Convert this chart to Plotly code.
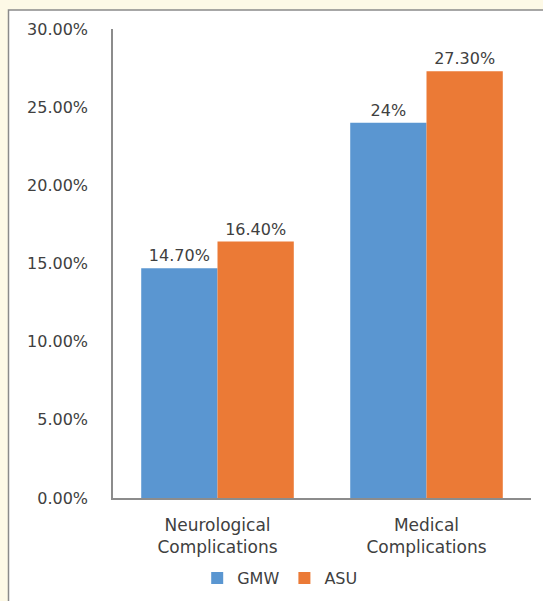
import plotly.graph_objects as go

categories = ["Neurological<br>Complications", "Medical<br>Complications"]
gmw_values = [0.147, 0.24]
asu_values = [0.164, 0.273]
gmw_labels = ["14.70%", "24%"]
asu_labels = ["16.40%", "27.30%"]
y_ticks = [0, 0.05, 0.10, 0.15, 0.20, 0.25, 0.30]

FONT = "DejaVu Sans"
TXT = "#404040"

fig = go.Figure()
fig.add_trace(go.Bar(
    name="GMW", x=categories, y=gmw_values, text=gmw_labels,
    textposition="outside", marker=dict(color="#5a96d1", line=dict(width=0)),
    textfont=dict(family=FONT, size=16, color=TXT), cliponaxis=False,
))
fig.add_trace(go.Bar(
    name="ASU", x=categories, y=asu_values, text=asu_labels,
    textposition="outside", marker=dict(color="#eb7a36", line=dict(width=0)),
    textfont=dict(family=FONT, size=16, color=TXT), cliponaxis=False,
))

fig.update_layout(
    width=543, height=601,
    margin=dict(l=113, r=12, t=29, b=103, autoexpand=False),
    paper_bgcolor="#fdf9e6",
    plot_bgcolor="white",
    barmode="group", bargap=0.27, bargroupgap=0,
    font=dict(family=FONT, size=16, color=TXT),
    showlegend=True,
    legend=dict(orientation="h", xanchor="center", x=0.40, yanchor="middle", y=-0.171,
                font=dict(family=FONT, size=16, color=TXT), itemwidth=30,
                bgcolor="rgba(0,0,0,0)"),
    shapes=[dict(type="rect", xref="paper", yref="paper", layer="below",
                 x0=-0.250, x1=1.2, y0=-0.5, y1=1.0405,
                 fillcolor="white", line=dict(color="#8a8a8a", width=1.5))],
)
fig.update_yaxes(range=[0, 0.30], tickvals=y_ticks, tickformat=".2%",
                 showgrid=False, zeroline=False, showline=True, linecolor="#8c8c8c",
                 linewidth=1.5, ticks="", ticklabelstandoff=20, automargin=False,
                 tickfont=dict(family=FONT, size=16, color=TXT))
fig.update_xaxes(showgrid=False, showline=True, linecolor="#8c8c8c", linewidth=1.5,
                 ticks="", ticklabelstandoff=11, automargin=False,
                 tickfont=dict(family=FONT, size=17, color=TXT))

fig.write_html("out.html")
